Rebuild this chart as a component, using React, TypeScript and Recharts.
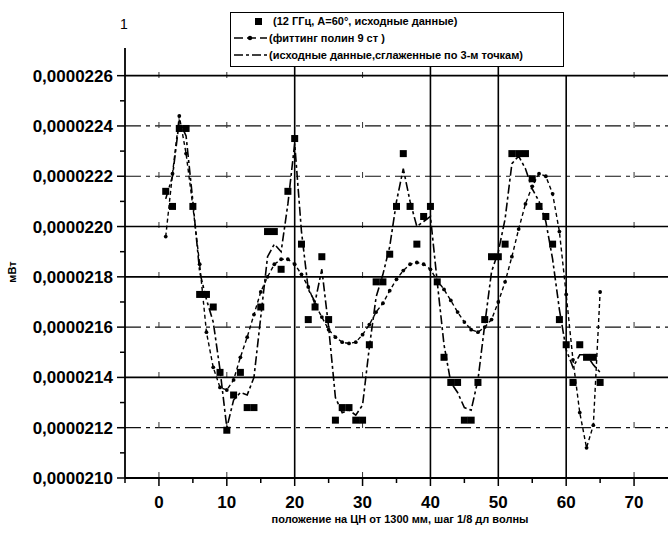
import React from 'react';
import { ComposedChart, Line, XAxis, YAxis, ReferenceLine } from 'recharts';

// values are in units of 1e-7 mW (210 -> 0,0000210)
const positions = [
  1, 2, 3, 4, 5, 6, 7, 8, 9, 10, 11, 12, 13, 14, 15, 16, 17, 18, 19, 20, 21, 22,
  23, 24, 25, 26, 27, 28, 29, 30, 31, 32, 33, 34, 35, 36, 37, 38, 39, 40, 41, 42,
  43, 44, 45, 46, 47, 48, 49, 50, 51, 52, 53, 54, 55, 56, 57, 58, 59, 60, 61, 62,
  63, 64, 65,
];

const rawData = [
  221.4, 220.8, 223.9, 223.9, 220.8, 217.3, 217.3, 216.8, 214.2, 211.9, 213.3, 214.2,
  212.8, 212.8, 216.8, 219.8, 219.8, 218.3, 221.4, 223.5, 219.3, 216.3, 216.8, 218.8,
  216.3, 212.3, 212.8, 212.8, 212.3, 212.3, 215.3, 217.8, 217.8, 218.9, 220.8, 222.9,
  220.8, 219.3, 220.4, 220.8, 217.8, 214.8, 213.8, 213.8, 212.3, 212.3, 213.8, 216.3,
  218.8, 218.8, 219.3, 222.9, 222.9, 222.9, 221.9, 220.8, 220.4, 219.3, 216.3, 215.3,
  213.8, 215.3, 214.8, 214.8, 213.8,
];

const polyFit = [
  219.6, 222.1, 224.4, 222.9, 220.8, 218.5, 215.8, 214.4, 213.6, 213.5, 213.9, 214.8,
  215.6, 216.5, 217.4, 218.0, 218.5, 218.7, 218.7, 218.5, 218.1, 217.6, 216.9, 216.4,
  215.9, 215.6, 215.4, 215.35, 215.4, 215.7, 216.1, 216.6, 216.95, 217.45, 217.9, 218.25,
  218.5, 218.57, 218.5, 218.3, 217.85, 217.5, 217.06, 216.6, 216.2, 215.9, 215.8, 216.0,
  216.3, 217.0, 217.8, 218.8, 219.9, 220.9, 221.6, 222.1, 222.0, 221.3, 219.8, 217.3,
  214.7, 212.6, 211.2, 212.1, 217.4,
];

const smoothed = [
  221.1, 222.0, 224.2, 223.6, 221.0, 218.2, 217.1, 216.2, 214.3, 212.0, 213.1, 213.4,
  213.3, 214.0, 216.4, 218.8, 219.3, 219.0, 220.9, 223.3, 219.8, 217.5, 217.0, 218.3,
  216.0, 213.2, 212.6, 212.7, 212.5, 212.9, 215.2, 217.2, 218.1, 219.2, 221.0, 222.3,
  221.0, 220.0, 220.2, 220.4, 217.8, 215.3, 213.8, 213.4, 212.8, 212.7, 213.9, 216.1,
  218.2, 219.0, 220.3, 222.5, 222.8, 222.3, 221.5, 221.0, 220.2, 218.7, 216.7, 215.1,
  214.4, 214.9, 214.9, 214.5, 214.2,
];

const xTicks = [-5, 0, 5, 10, 15, 20, 25, 30, 35, 40, 45, 50, 55, 60, 65, 70];
const yTicks = [210, 211, 212, 213, 214, 215, 216, 217, 218, 219, 220, 221, 222, 223, 224, 225, 226];
const solidH = [226, 220, 218, 214];
const dashedH = [224, 222, 216, 212];
const solidV = [20, 40, 50];
const faintV = [0, 10, 30, 70];

const rows = positions.map((x, i) => ({
  x,
  raw: rawData[i],
  fit: polyFit[i],
  smooth: smoothed[i],
}));

const FONT = '"Liberation Sans", Arial, sans-serif';

const fmt = (v: number) => (v * 1e-7).toFixed(7).replace('.', ',');

const XTick = (props: any) => {
  const { x, y, payload } = props;
  const v = payload.value;
  const major = v % 10 === 0;
  return (
    <g>
      <line x1={x} y1={y} x2={x} y2={y + (major ? 8 : 5)} stroke="#000" strokeWidth={1.5} />
      {major && (
        <text x={x} y={y + 30} textAnchor="middle" fontFamily={FONT} fontWeight="bold" fontSize={17} fill="#000">
          {v}
        </text>
      )}
    </g>
  );
};

const YTick = (props: any) => {
  const { x, y, payload } = props;
  const v = payload.value;
  const major = v % 2 === 0;
  return (
    <g>
      <line x1={x - (major ? 8 : 5)} y1={y} x2={x} y2={y} stroke="#000" strokeWidth={1.5} />
      {major && (
        <text x={x - 12} y={y + 6} textAnchor="end" fontFamily={FONT} fontWeight="bold" fontSize={17} fill="#000">
          {fmt(v)}
        </text>
      )}
    </g>
  );
};

const squareDot = (p: any) => (
  <rect key={`sq-${p.index}`} x={p.cx - 3.5} y={p.cy - 3.5} width={7} height={7} fill="#000" />
);

const fitDot = (p: any) => <circle key={`fd-${p.index}`} cx={p.cx} cy={p.cy} r={1.9} fill="#000" />;

const legendText: React.CSSProperties = {
  position: 'absolute',
  fontFamily: FONT,
  fontWeight: 'bold',
  fontSize: 11,
  whiteSpace: 'nowrap',
  lineHeight: '12px',
};

export default function App() {
  return (
    <div style={{ position: 'absolute', left: 0, top: 0, width: 668, height: 537, background: '#fff', overflow: 'hidden' }}>
      <ComposedChart width={668} height={537} data={rows} margin={{ top: 48, right: 0, bottom: 19, left: 10 }}>
        {dashedH.map((v) => (
          <ReferenceLine key={`dh${v}`} y={v} stroke="#111" strokeWidth={1.2} strokeDasharray="16 5 4 5" />
        ))}
        {faintV.map((v) => (
          <ReferenceLine key={`fv${v}`} x={v} stroke="#333" strokeWidth={1} strokeDasharray="6 44" />
        ))}
        {solidH.map((v) => (
          <ReferenceLine key={`sh${v}`} y={v} stroke="#000" strokeWidth={1.6} />
        ))}
        {solidV.map((v) => (
          <ReferenceLine key={`sv${v}`} x={v} stroke="#000" strokeWidth={1.6} />
        ))}
        <ReferenceLine segment={[{ x: 60, y: 226 }, { x: 60, y: 210 }]} stroke="#000" strokeWidth={1.6} />
        <XAxis
          dataKey="x"
          type="number"
          domain={[-5, 75]}
          ticks={xTicks}
          interval={0}
          allowDataOverflow
          height={40}
          tickSize={0}
          tickMargin={0}
          tickLine={false}
          axisLine={{ stroke: '#000', strokeWidth: 1.8 }}
          tick={<XTick />}
        />
        <YAxis
          type="number"
          domain={[210, 227.1]}
          ticks={yTicks}
          interval={0}
          allowDataOverflow
          width={115}
          tickSize={0}
          tickMargin={0}
          tickLine={false}
          axisLine={{ stroke: '#000', strokeWidth: 1.8 }}
          tick={<YTick />}
        />
        <Line
          dataKey="smooth"
          type="linear"
          stroke="#000"
          strokeWidth={1.6}
          strokeDasharray="9 3 3 3"
          dot={false}
          isAnimationActive={false}
        />
        <Line
          dataKey="fit"
          type="linear"
          stroke="#000"
          strokeWidth={1.4}
          strokeDasharray="4 3"
          dot={fitDot}
          isAnimationActive={false}
        />
        <Line
          dataKey="raw"
          type="linear"
          stroke="none"
          strokeWidth={0}
          dot={squareDot}
          isAnimationActive={false}
        />
        <text x={400} y={523} textAnchor="middle" fontFamily={FONT} fontWeight="bold" fontSize={11} fill="#000">
          положение на ЦН от 1300 мм, шаг 1/8 дл  волны
        </text>
        <text
          x={16}
          y={272}
          textAnchor="middle"
          transform="rotate(-90 16 272)"
          fontFamily={FONT}
          fontWeight="bold"
          fontSize={11}
          fill="#000"
        >
          мВт
        </text>
        <text x={124} y={29} textAnchor="middle" fontFamily={FONT} fontSize={14} fill="#000">
          1
        </text>
      </ComposedChart>

      <div
        style={{
          position: 'absolute',
          left: 230,
          top: 12,
          width: 334,
          height: 55,
          border: '1.5px solid #000',
          boxSizing: 'border-box',
          background: '#fff',
        }}
      >
        <svg width={40} height={55} style={{ position: 'absolute', left: 0, top: 0 }}>
          <rect x={24} y={5} width={7} height={7} fill="#000" />
          <line x1={3} y1={25} x2={36} y2={25} stroke="#000" strokeWidth={1.6} strokeDasharray="9 4" />
          <circle cx={19} cy={25} r={2.2} fill="#000" />
          <line x1={3} y1={42} x2={36} y2={42} stroke="#000" strokeWidth={1.6} strokeDasharray="9 3 3 3" />
        </svg>
        <div style={{ ...legendText, left: 42, top: 2 }}>(12 ГГц, А=60°, исходные данные)</div>
        <div style={{ ...legendText, left: 38, top: 19 }}>(фиттинг полин  9 ст )</div>
        <div style={{ ...legendText, left: 38, top: 36 }}>(исходные данные,сглаженные по 3-м точкам)</div>
      </div>
    </div>
  );
}
